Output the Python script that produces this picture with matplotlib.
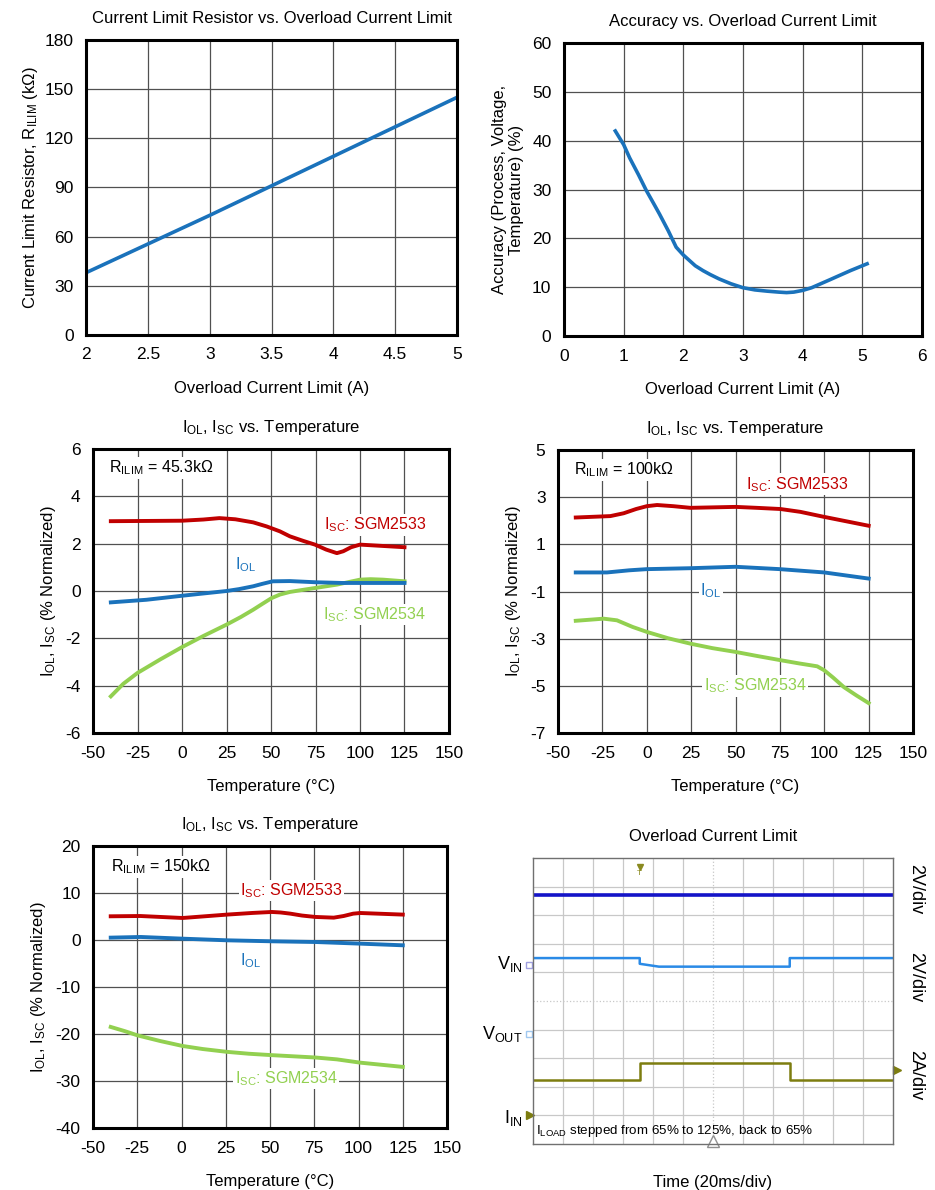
import matplotlib.pyplot as plt
from matplotlib.ticker import FormatStrFormatter

plt.rcParams['font.family'] = ['Liberation Sans', 'DejaVu Sans']
plt.rcParams['mathtext.default'] = 'regular'
plt.rcParams['axes.unicode_minus'] = False

# --- data ---
# current limit resistor vs overload current
rlim_x = [2, 2.5, 3, 3.5, 4, 4.5, 5]
rlim_y = [38, 55.5, 73, 91, 109, 127, 145]

# accuracy vs overload current
acc_x = [0.86, 1.0, 1.1, 1.25, 1.38, 1.5, 1.6, 1.75, 1.88, 2.0, 2.1, 2.2, 2.33, 2.45, 2.6,
         2.8, 3.0, 3.2, 3.4, 3.6, 3.73, 3.85, 4.0, 4.15, 4.3, 4.45, 4.56, 4.8, 5.08]
acc_y = [42.0, 39.2, 36.5, 33.0, 29.8, 27.2, 25.0, 21.5, 18.2, 16.6, 15.5, 14.4, 13.4, 12.6, 11.7,
         10.7, 9.9, 9.45, 9.2, 9.0, 8.9, 9.0, 9.35, 9.9, 10.7, 11.5, 12.1, 13.4, 14.8]

# R = 45.3k
t45_red = [-40, 0, 12, 21, 30, 40, 47.5, 55, 60.6, 68, 74.7, 81, 87, 90.6, 95, 100, 125]
v45_red = [2.95, 2.97, 3.02, 3.08, 3.03, 2.9, 2.73, 2.52, 2.31, 2.12, 1.96, 1.75, 1.6, 1.68,
           1.85, 1.96, 1.85]
t45_blue = [-40, -20, 0, 25, 32, 40, 45, 51, 60.6, 75, 90, 125]
v45_blue = [-0.48, -0.37, -0.2, 0.0, 0.08, 0.2, 0.3, 0.41, 0.42, 0.37, 0.34, 0.34]
t45_green = [-40, -33, -25, -12, 0, 12, 25, 33, 40, 45, 50.3, 55, 60.6, 68, 75, 87, 95, 100,
             106, 113, 125]
v45_green = [-4.45, -3.92, -3.46, -2.88, -2.37, -1.9, -1.42, -1.1, -0.79, -0.55, -0.3, -0.15,
             -0.04, 0.05, 0.13, 0.27, 0.4, 0.48, 0.5, 0.48, 0.41]

# R = 100k
t100_red = [-40, -20.5, -13, -6, 0, 5.8, 15, 24.6, 50, 62, 75.3, 86.5, 99.7, 125]
v100_red = [2.14, 2.2, 2.32, 2.5, 2.62, 2.67, 2.62, 2.55, 2.59, 2.55, 2.5, 2.38, 2.17, 1.79]
t100_blue = [-40, -22.4, -10, 0, 24.6, 50, 75, 100, 125]
v100_blue = [-0.19, -0.19, -0.1, -0.05, -0.01, 0.05, -0.05, -0.19, -0.45]
t100_green = [-40, -24.3, -16.8, -8, 0, 12, 24.6, 37, 50, 62, 75.3, 86, 96, 100, 105, 111, 118, 125]
v100_green = [-2.24, -2.15, -2.22, -2.5, -2.71, -2.98, -3.21, -3.4, -3.56, -3.73, -3.91, -4.05,
              -4.17, -4.34, -4.65, -5.05, -5.4, -5.73]

# R = 150k
t150_red = [-40, -23.3, 0.6, 25.7, 40, 51, 56, 61.5, 68, 75.6, 86, 91.6, 97, 101, 125]
v150_red = [5.04, 5.1, 4.68, 5.4, 5.75, 5.96, 5.85, 5.6, 5.2, 4.9, 4.75, 5.1, 5.6, 5.74, 5.4]
t150_blue = [-40, -23, 0.6, 25.7, 51, 75.6, 101, 125]
v150_blue = [0.5, 0.64, 0.28, -0.07, -0.28, -0.43, -0.78, -1.13]
t150_green = [-40, -32, -24.8, -12, 0.6, 12, 25.7, 38, 51, 75.6, 87.8, 101, 125]
v150_green = [-18.5, -19.4, -20.3, -21.5, -22.55, -23.2, -23.8, -24.2, -24.5, -25.0, -25.4,
              -26.1, -27.0]

# scope traces (in divisions)
vout_x = [0, 12]
vout_y = [8.72, 8.72]
vin_x = [0, 3.56, 3.56, 4.2, 8.56, 8.56, 12]
vin_y = [6.5, 6.5, 6.3, 6.2, 6.2, 6.5, 6.5]
iin_x = [0, 3.56, 3.56, 8.56, 8.56, 12]
iin_y = [2.24, 2.24, 2.82, 2.82, 2.24, 2.24]

BLUE = '#1a72bb'
RED = '#c00000'
GREEN = '#92d050'
GRID = '#505050'
FS = 12.5
AFS = 11.5

fig = plt.figure(figsize=(9.35, 11.9), dpi=100)


def style_axes(ax, title, xlabel, ylabel, xlim, ylim, xticks, yticks, lpad=4):
    ax.set_xlim(xlim)
    ax.set_ylim(ylim)
    ax.set_xticks(xticks)
    ax.set_yticks(yticks)
    ax.xaxis.set_major_formatter(FormatStrFormatter('%g'))
    ax.tick_params(length=0, pad=9, labelsize=FS)
    ax.grid(True, color=GRID, lw=0.9)
    ax.set_axisbelow(True)
    for s in ax.spines.values():
        s.set_linewidth(2.2)
        s.set_color('black')
    ax.set_title(title, fontsize=12, pad=12)
    ax.set_xlabel(xlabel, fontsize=12, labelpad=13)
    ax.set_ylabel(ylabel, fontsize=12, labelpad=lpad)


# panel 1
ax1 = fig.add_axes([0.092, 0.7185, 0.3968, 0.2479])
ax1.plot(rlim_x, rlim_y, color=BLUE, lw=2.6)
style_axes(ax1, 'Current Limit Resistor vs. Overload Current Limit',
           'Overload Current Limit (A)', r'Current Limit Resistor, R$_{ILIM}$ (k$\Omega$)',
           (2, 5), (0, 180), [2, 2.5, 3, 3.5, 4, 4.5, 5], range(0, 181, 30), lpad=3)

# panel 2
ax2 = fig.add_axes([0.6032, 0.7176, 0.3829, 0.2462])
ax2.plot(acc_x, acc_y, color=BLUE, lw=2.6)
style_axes(ax2, 'Accuracy vs. Overload Current Limit',
           'Overload Current Limit (A)', 'Accuracy (Process, Voltage,\nTemperature) (%)',
           (0, 6), (0, 60), range(0, 7), range(0, 61, 10), lpad=6)
ax2.yaxis.label.set_linespacing(1.15)

temp_ylabel = r'I$_{OL}$, I$_{SC}$ (% Normalized)'
temp_title = r'I$_{OL}$, I$_{SC}$ vs. Temperature'
box = dict(facecolor='white', edgecolor='none', pad=1)


def temp_panel(rect, ylim, yticks, red, blue, green, rtext, labels):
    ax = fig.add_axes(rect)
    ax.plot(green[0], green[1], color=GREEN, lw=2.8)
    ax.plot(blue[0], blue[1], color=BLUE, lw=2.8)
    ax.plot(red[0], red[1], color=RED, lw=2.8)
    style_axes(ax, temp_title, 'Temperature (°C)', temp_ylabel,
               (-50, 150), ylim, range(-50, 151, 25), yticks, lpad=5)
    ax.text(rtext[0], rtext[1], r'R$_{ILIM}$ = ' + rtext[2], fontsize=AFS,
            va='center', bbox=box)
    (rx, ry), (bx, by), (gx, gy) = labels
    ax.text(rx, ry, r'I$_{SC}$: SGM2533', color=RED, fontsize=AFS, va='center', bbox=box)
    ax.text(bx, by, r'I$_{OL}$', color=BLUE, fontsize=AFS, va='center', bbox=box)
    ax.text(gx, gy, r'I$_{SC}$: SGM2534', color=GREEN, fontsize=AFS, va='center', bbox=box)
    return ax


temp_panel([0.0995, 0.384, 0.3807, 0.2387], (-6, 6), range(-6, 7, 2),
           (t45_red, v45_red), (t45_blue, v45_blue), (t45_green, v45_green),
           (-41, 5.2, r'45.3k$\Omega$'), [(80, 2.8), (30, 1.1), (79, -1.0)])
temp_panel([0.5968, 0.384, 0.3797, 0.2378], (-7, 5), range(-7, 6, 2),
           (t100_red, v100_red), (t100_blue, v100_blue), (t100_green, v100_green),
           (-41, 4.15, r'100k$\Omega$'), [(56, 3.55), (30, -0.95), (32, -5.0)])
temp_panel([0.0995, 0.0521, 0.3786, 0.237], (-40, 20), range(-40, 21, 10),
           (t150_red, v150_red), (t150_blue, v150_blue), (t150_green, v150_green),
           (-40, 15.5, r'150k$\Omega$'), [(33, 10.5), (33, -4.3), (30, -29.5)])

# panel 6: scope capture
ax6 = fig.add_axes([0.570, 0.0387, 0.385, 0.2403])
ax6.set_xlim(0, 12)
ax6.set_ylim(0, 10)
ax6.set_xticks([])
ax6.set_yticks([])
for i in range(1, 12):
    ax6.axvline(i, color='#c8c8c8', lw=0.9, ls=':' if i == 6 else '-')
for j in range(1, 10):
    ax6.axhline(j, color='#c8c8c8', lw=0.9, ls=':' if j == 5 else '-')
for s in ax6.spines.values():
    s.set_color('#707070')
    s.set_linewidth(1.0)
ax6.plot(vout_x, vout_y, color='#1414c8', lw=2.6)
ax6.plot(vin_x, vin_y, color='#2a8ae6', lw=1.8)
ax6.plot(iin_x, iin_y, color='#7d7d10', lw=1.8)
ax6.plot([3.56], [9.7], marker='v', color='#8a8a20', ms=4)
ax6.text(3.56, 9.45, 'T', color='#8a8a20', fontsize=6, ha='center', va='center')
ax6.plot([6], [0.1], marker='^', mfc='white', mec='#909090', ms=8, clip_on=False)
ax6.plot([12.15], [2.6], marker='>', color='#7d7d10', ms=6, clip_on=False)
ax6.plot([-0.1], [1.0], marker='>', color='#7d7d10', ms=6, clip_on=False)
ax6.plot([-0.12], [6.25], marker='s', mfc='white', mec='#a0a0e0', ms=5, clip_on=False)
ax6.plot([-0.12], [3.85], marker='s', mfc='white', mec='#a0c8f0', ms=5, clip_on=False)
ax6.text(-0.35, 6.3, r'V$_{IN}$', fontsize=13, ha='right', va='center')
ax6.text(-0.35, 3.85, r'V$_{OUT}$', fontsize=13, ha='right', va='center')
ax6.text(-0.35, 0.9, r'I$_{IN}$', fontsize=13, ha='right', va='center')
ax6.text(0.1, 0.45, r'I$_{LOAD}$ stepped from 65% to 125%, back to 65%', fontsize=9.6,
         va='center')
for yy, lab in [(8.9, '2V/div'), (5.85, '2V/div'), (2.4, '2A/div')]:
    ax6.text(12.75, yy, lab, fontsize=13, rotation=270, ha='center', va='center')
ax6.set_title('Overload Current Limit', fontsize=12, pad=12)
ax6.set_xlabel('Time (20ms/div)', fontsize=12, labelpad=22)

fig.savefig('out.png', dpi=100)
